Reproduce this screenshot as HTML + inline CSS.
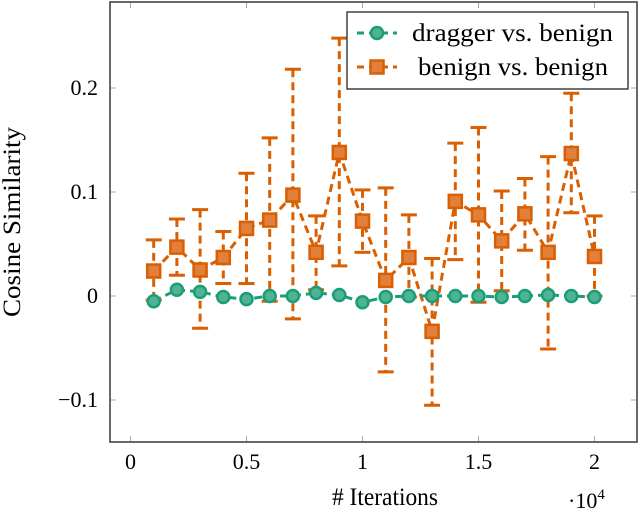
<!DOCTYPE html>
<html><head><meta charset="utf-8"><style>
html,body{margin:0;padding:0;background:#fff;}
svg{display:block;font-family:"Liberation Serif","DejaVu Serif",serif;}
</style></head><body>
<svg id="chart" width="640" height="515" viewBox="0 0 640 515">
<g id="grid"></g>
<g id="marks"></g>
<rect x="110" y="2" width="527" height="440" fill="none" stroke="#444" stroke-width="1.6"/>
<text x="0" y="0" transform="translate(20,222) rotate(-90)" text-anchor="middle" font-size="25" textLength="190" lengthAdjust="spacingAndGlyphs">Cosine Similarity</text>
<text x="385" y="505" text-anchor="middle" font-size="25" textLength="106" lengthAdjust="spacingAndGlyphs"># Iterations</text>
<text x="568" y="508" font-size="22">·10<tspan dy="-9" font-size="15">4</tspan></text>
<g>
<rect x="347" y="12" width="281" height="77" fill="#fff" stroke="#333" stroke-width="1.4"/>
<g>
<line x1="357" y1="33" x2="397" y2="33" stroke="#1b9e77" stroke-width="3" stroke-dasharray="7,5"/>
<circle cx="377" cy="33" r="6" fill="#4fb394" stroke="#1b9e77" stroke-width="2.5"/>
<text x="412" y="41" font-size="25" textLength="201" lengthAdjust="spacingAndGlyphs">dragger vs. benign</text>
</g>
<g>
<line x1="357" y1="67" x2="397" y2="67" stroke="#d95f02" stroke-width="3" stroke-dasharray="7,5"/>
<rect x="370.5" y="60.5" width="13" height="13" fill="#e0803a" stroke="#d95f02" stroke-width="2.5"/>
<text x="418" y="75" font-size="25" textLength="190" lengthAdjust="spacingAndGlyphs">benign vs. benign</text>
</g>
</g>
</svg>
<script>
const xTicks=[0,0.5,1,1.5,2];
const xTickLabels=["0","0.5","1","1.5","2"];
const yTicks=[-0.1,0,0.1,0.2];
const yTickLabels=["\u22120.1","0","0.1","0.2"];
const iterations=[0.1,0.2,0.3,0.4,0.5,0.6,0.7,0.8,0.9,1.0,1.1,1.2,1.3,1.4,1.5,1.6,1.7,1.8,1.9,2.0];
const benignMean=[0.024,0.047,0.025,0.037,0.065,0.073,0.097,0.042,0.138,0.072,0.015,0.037,-0.034,0.091,0.078,0.053,0.079,0.042,0.137,0.038];
const benignHigh=[0.054,0.074,0.083,0.062,0.118,0.152,0.218,0.077,0.248,0.102,0.104,0.078,0.036,0.147,0.162,0.101,0.113,0.134,0.195,0.077];
const benignLow=[-0.004,0.020,-0.031,0.012,0.012,-0.005,-0.022,0.006,0.029,0.042,-0.073,-0.001,-0.105,0.035,-0.006,0.005,0.044,-0.051,0.080,0.000];
const draggerMean=[-0.005,0.006,0.004,-0.001,-0.003,0.000,0.000,0.003,0.001,-0.006,-0.001,0.000,0.000,0.000,0.000,-0.001,0.000,0.001,0.000,-0.001];

const NS="http://www.w3.org/2000/svg";
const X=v=>130.5+v*232;
const Y=v=>296-v*1040;
const svg=document.getElementById('chart');
const grid=document.getElementById('grid');
const marks=document.getElementById('marks');
function mk(tag,attrs,parent){const e=document.createElementNS(NS,tag);for(const k in attrs)e.setAttribute(k,attrs[k]);parent.appendChild(e);return e;}

xTicks.forEach((t,i)=>{
  const a=mk('line',{x1:X(t),x2:X(t),y1:442,y2:436,stroke:'#aaa','stroke-width':1},grid);
  
  
  const b=mk('line',{x1:X(t),x2:X(t),y1:2,y2:8,stroke:'#aaa','stroke-width':1},grid);
  
  
  const l=mk('text',{x:X(t),y:469,'text-anchor':'middle','font-size':22},svg);
  l.textContent=xTickLabels[i];
  
  
});
yTicks.forEach((t,i)=>{
  const a=mk('line',{x1:110,x2:116,y1:Y(t),y2:Y(t),stroke:'#aaa','stroke-width':1},grid);
  
  
  const b=mk('line',{x1:631,x2:637,y1:Y(t),y2:Y(t),stroke:'#aaa','stroke-width':1},grid);
  
  
  const l=mk('text',{x:98,y:Y(t)+7,'text-anchor':'end','font-size':22},svg);
  l.textContent=yTickLabels[i];
  
  
});

const OR='#d95f02',GR='#1b9e77';
iterations.forEach((x,i)=>{
  const g=mk('g',{},marks);
  
  
  mk('line',{x1:X(x),x2:X(x),y1:Y(benignHigh[i]),y2:Y(benignLow[i]),stroke:OR,'stroke-width':3,'stroke-dasharray':'8,5'},g);
  mk('line',{x1:X(x)-8,x2:X(x)+8,y1:Y(benignHigh[i]),y2:Y(benignHigh[i]),stroke:OR,'stroke-width':3},g);
  mk('line',{x1:X(x)-8,x2:X(x)+8,y1:Y(benignLow[i]),y2:Y(benignLow[i]),stroke:OR,'stroke-width':3},g);
});
const bl=mk('polyline',{points:iterations.map((x,i)=>X(x)+','+Y(benignMean[i])).join(' '),fill:'none',stroke:OR,'stroke-width':3,'stroke-dasharray':'8,5'},marks);


const dl=mk('polyline',{points:iterations.map((x,i)=>X(x)+','+Y(draggerMean[i])).join(' '),fill:'none',stroke:GR,'stroke-width':3,'stroke-dasharray':'8,5'},marks);


iterations.forEach((x,i)=>{
  const c=mk('circle',{cx:X(x),cy:Y(draggerMean[i]),r:6,fill:'#4fb394',stroke:GR,'stroke-width':2.5},marks);
  
  
});
iterations.forEach((x,i)=>{
  const r=mk('rect',{x:X(x)-6.5,y:Y(benignMean[i])-6.5,width:13,height:13,fill:'#e0803a',stroke:OR,'stroke-width':2.5},marks);
  
  
});
</script>
</body></html>
